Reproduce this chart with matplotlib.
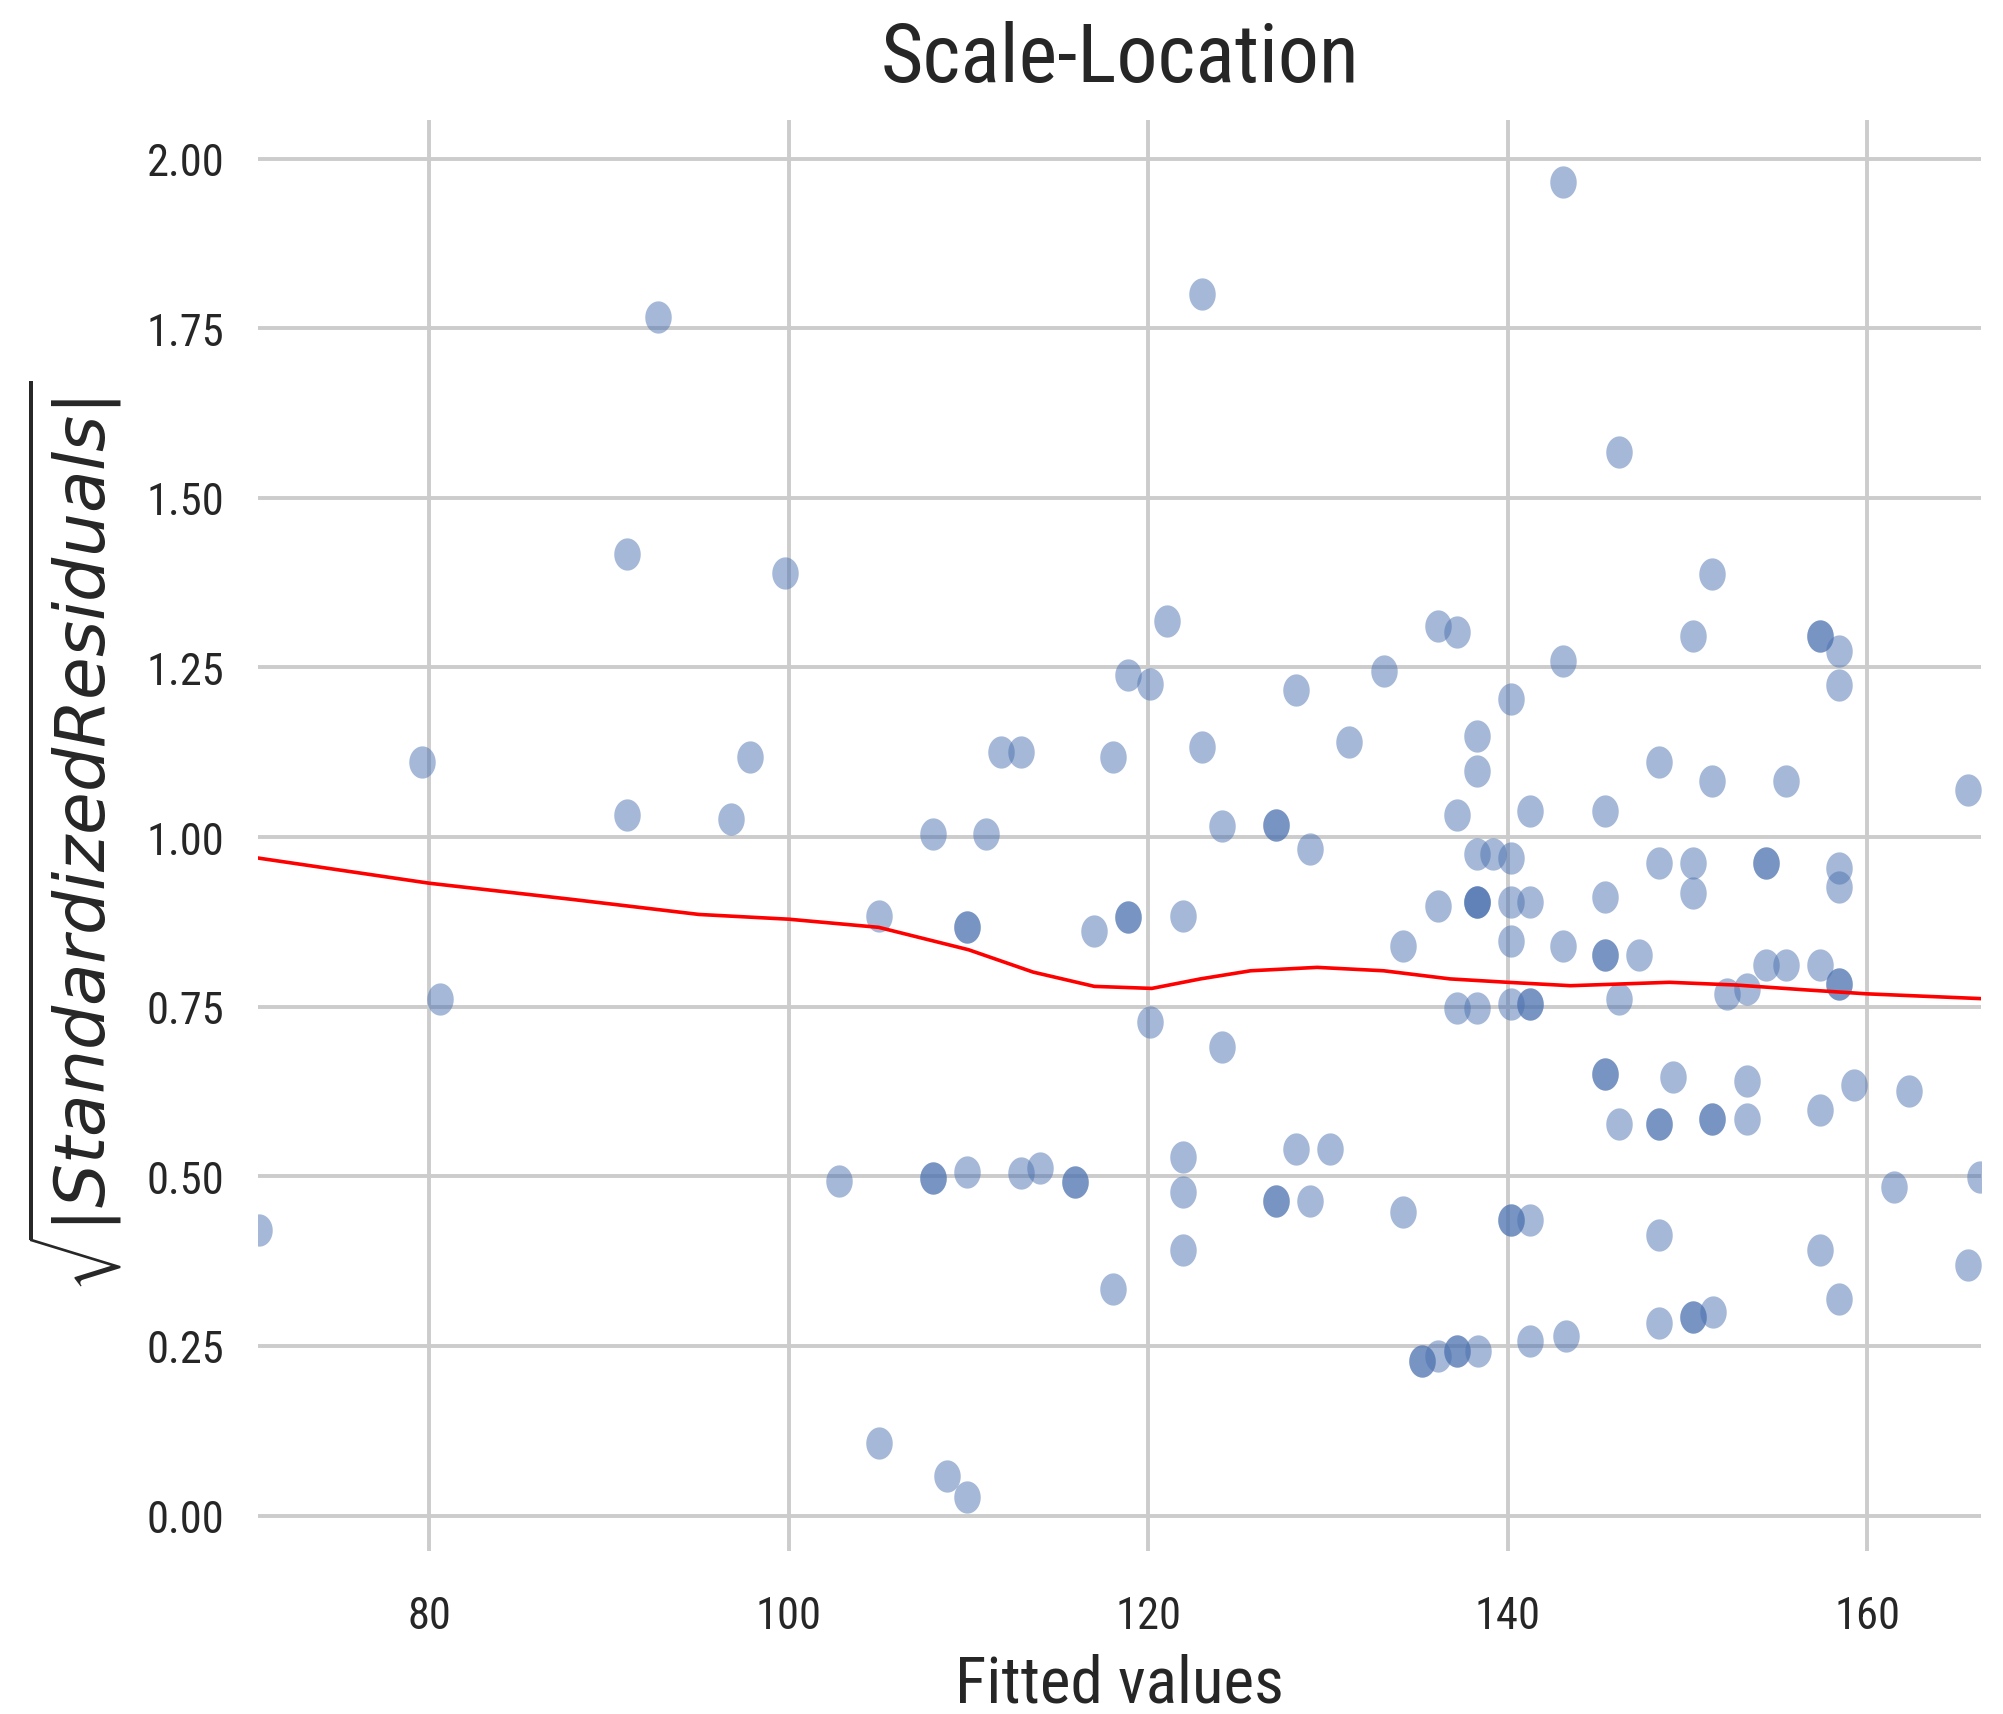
# scale_location.py
#   scale-location diagnostic plot for a fitted linear model

# imports
import numpy as np
import matplotlib
matplotlib.use('Agg')
from matplotlib import pyplot as plt
from matplotlib.path import Path


# fitted values and sqrt(|standardized residuals|), one entry per observation
fitted = [
    70.5, 79.6, 80.6, 91.0, 91.0, 92.7, 96.8, 97.85, 99.8, 102.8,
    105.0, 105.0, 108.0, 108.0, 108.0, 108.8, 109.9, 109.9, 109.9, 109.9,
    111.0, 111.8, 112.9, 112.9, 114.0, 115.9, 115.9, 117.0, 118.05, 118.05,
    118.9, 118.9, 118.9, 120.1, 120.1, 121.05, 121.95, 121.95, 121.95, 121.95,
    123.0, 123.0, 124.1, 124.1, 127.1, 127.1, 127.1, 127.1, 128.2, 128.2,
    129.0, 129.0, 130.1, 131.2, 133.1, 134.2, 134.2, 135.25, 135.25, 136.1,
    136.1, 136.1, 137.2, 137.2, 137.2, 137.2, 137.2, 138.3, 138.3, 138.3,
    138.3, 138.3, 138.3, 138.3, 138.35, 139.2, 140.2, 140.2, 140.2, 140.2,
    140.2, 140.2, 140.2, 141.25, 141.25, 141.25, 141.25, 141.25, 141.25, 143.1,
    143.1, 143.1, 143.25, 145.4, 145.4, 145.4, 145.4, 145.4, 145.4, 146.2,
    146.2, 146.2, 147.3, 148.4, 148.4, 148.4, 148.4, 148.4, 148.4, 149.2,
    150.3, 150.3, 150.3, 150.3, 150.3, 151.4, 151.4, 151.4, 151.4, 151.45,
    152.2, 153.3, 153.3, 153.3, 154.4, 154.4, 154.4, 155.5, 155.5, 157.4,
    157.4, 157.4, 157.4, 157.4, 158.45, 158.45, 158.45, 158.45, 158.45, 158.45,
    158.45, 159.3, 161.5, 162.35, 165.6, 165.6, 166.3,
]
sqrt_std_resid = [
    0.421, 1.111, 0.762, 1.417, 1.033, 1.766, 1.026, 1.118, 1.389, 0.493,
    0.884, 0.107, 1.004, 0.497, 0.497, 0.058, 0.028, 0.868, 0.868, 0.506,
    1.004, 1.125, 1.125, 0.505, 0.512, 0.491, 0.491, 0.861, 1.118, 0.334,
    0.882, 0.882, 1.239, 1.225, 0.728, 1.318, 0.884, 0.528, 0.477, 0.392,
    1.801, 1.133, 1.017, 0.690, 1.018, 1.018, 0.463, 0.463, 1.217, 0.540,
    0.983, 0.463, 0.540, 1.140, 1.245, 0.840, 0.448, 0.228, 0.228, 1.311,
    0.898, 0.235, 1.303, 1.032, 0.748, 0.242, 0.242, 1.149, 1.097, 0.975,
    0.904, 0.904, 0.904, 0.748, 0.242, 0.975, 1.204, 0.969, 0.904, 0.847,
    0.754, 0.435, 0.435, 1.039, 0.904, 0.754, 0.754, 0.435, 0.257, 1.966,
    1.260, 0.840, 0.265, 1.039, 0.911, 0.826, 0.826, 0.651, 0.651, 1.568,
    0.762, 0.577, 0.826, 1.111, 0.962, 0.577, 0.577, 0.413, 0.284, 0.646,
    1.296, 0.962, 0.918, 0.292, 0.292, 1.388, 1.082, 0.584, 0.584, 0.300,
    0.769, 0.776, 0.641, 0.584, 0.962, 0.962, 0.812, 1.082, 0.812, 1.296,
    1.296, 0.812, 0.598, 0.392, 1.275, 1.224, 0.954, 0.926, 0.784, 0.784,
    0.319, 0.634, 0.484, 0.626, 1.069, 0.370, 0.499,
]

# lowess smoother through the cloud
lowess_x = [70.5, 80.0, 88.0, 95.0, 100.0, 105.0, 110.0, 113.6, 117.0, 120.2, 122.9,
            125.7, 129.4, 133.1, 136.8, 140.0, 143.5, 149.0, 152.7, 156.5, 160.0, 166.3]
lowess_y = [0.969, 0.932, 0.908, 0.886, 0.879, 0.867, 0.834, 0.801, 0.780, 0.777, 0.791,
            0.803, 0.808, 0.803, 0.791, 0.786, 0.781, 0.786, 0.782, 0.775, 0.769, 0.762]

x_ticks = [80, 100, 120, 140, 160]
y_ticks = [0.00, 0.25, 0.50, 0.75, 1.00, 1.25, 1.50, 1.75, 2.00]

NARROW = ['Roboto Condensed', 'DejaVu Sans']
TEXT = '#262626'


def ellipse_marker():
    # slightly tall dot
    t = np.linspace(0, 2 * np.pi, 64)
    return Path(np.column_stack([0.82 * np.cos(t), np.sin(t)]), closed=True)


def main():
    plt.rcParams['font.family'] = NARROW
    fig = plt.figure(figsize=(20.03, 17.15), dpi=100)
    ax = fig.add_axes([0.1288, 0.0951, 0.8602, 0.8344])

    ax.scatter(fitted, sqrt_std_resid, s=540, marker=ellipse_marker(),
               color='#4C72B0', alpha=0.5, linewidths=0, zorder=3)
    ax.plot(lowess_x, lowess_y, color='red', lw=2.6, zorder=4)

    ax.set_xlim(70.46, 166.34)
    ax.set_ylim(-0.052, 2.057)
    ax.set_xticks(x_ticks)
    ax.set_yticks(y_ticks)
    ax.set_yticklabels([f'{v:.2f}' for v in y_ticks])

    ax.grid(True, color='#cccccc', lw=2.8, zorder=0)
    ax.set_axisbelow(True)
    for sp in ax.spines.values():
        sp.set_visible(False)
    ax.tick_params(axis='both', length=0, labelsize=32, colors=TEXT)
    ax.tick_params(axis='y', pad=24)
    ax.tick_params(axis='x', pad=32)

    ax.set_title('Scale-Location', fontsize=59, color=TEXT, pad=28)
    ax.set_xlabel('Fitted values', fontsize=47, color=TEXT)
    ax.xaxis.set_label_coords(0.5, -0.071)
    ax.set_ylabel(r'$\sqrt{|Standardized Residuals|}$', fontsize=50,
                  color=TEXT, family='DejaVu Sans')
    ax.yaxis.set_label_coords(-0.078, 0.5)

    fig.savefig('out.png', dpi=100, facecolor='white')


if __name__ == "__main__":
    main()
